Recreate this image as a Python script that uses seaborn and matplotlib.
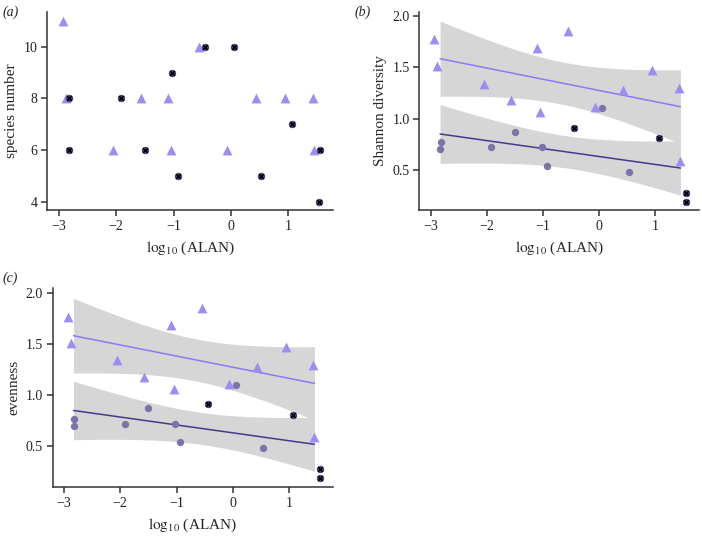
import numpy as np
import seaborn as sns
import matplotlib
matplotlib.use('Agg')
import matplotlib.pyplot as plt

# Datele citite din figura
# triunghiuri (grupa 1) si cercuri (grupa 2), pozitii x (log10 ALAN)
x_tri = [-2.93, -2.88, -2.05, -1.57, -1.10, -1.05, -0.55, -0.07, 0.43, 0.95, 1.43, 1.45]
x_circ = [-2.82, -2.83, -1.92, -1.50, -1.02, -0.93, -0.45, 0.05, 0.53, 1.07, 1.55, 1.54]

# (a) species number
sp_tri = [11, 8, 6, 8, 8, 6, 10, 6, 8, 8, 8, 6]
sp_circ = [8, 6, 8, 6, 9, 5, 10, 10, 5, 7, 6, 4]
flag_a = [True] * 12

# (b) Shannon diversity si (c) evenness (aceleasi valori)
sh_tri = [1.77, 1.51, 1.34, 1.18, 1.69, 1.06, 1.85, 1.11, 1.28, 1.47, 1.30, 0.59]
sh_circ = [0.77, 0.70, 0.72, 0.87, 0.72, 0.54, 0.91, 1.10, 0.48, 0.81, 0.28, 0.19]
flag_bc = [False, False, False, False, False, False, True, False, False, True, True, True]

ev_tri = sh_tri
ev_circ = sh_circ

x_ticks = [-3, -2, -1, 0, 1]

# Culori
c_tri = '#9d8cf2'
c_circ = '#7b74a8'
c_mark = '#46417e'
c_line_tri = '#8a7af5'
c_line_circ = '#433b8c'
c_band = '#d6d6d6'

sns.set_style('ticks')
plt.rcParams['font.family'] = ['Liberation Serif', 'DejaVu Serif']
plt.rcParams['mathtext.fontset'] = 'stix'
plt.rcParams['axes.edgecolor'] = '#333333'
plt.rcParams['axes.linewidth'] = 1.1
plt.rcParams['xtick.color'] = '#333333'
plt.rcParams['ytick.color'] = '#333333'
plt.rcParams['xtick.labelcolor'] = '#222222'
plt.rcParams['ytick.labelcolor'] = '#222222'


def fit_band(ax, x, y, lo, hi, col, z):
    # regresie liniara + interval de incredere 95% (t, df = n-2)
    x = np.asarray(x, float)
    y = np.asarray(y, float)
    n = len(x)
    b, a = np.polyfit(x, y, 1)
    res = y - (a + b * x)
    s = np.sqrt((res ** 2).sum() / (n - 2))
    sxx = ((x - x.mean()) ** 2).sum()
    xg = np.linspace(lo, hi, 100)
    yg = a + b * xg
    se = s * np.sqrt(1 / n + (xg - x.mean()) ** 2 / sxx)
    t = 2.228  # t 0.975, df=10
    ax.fill_between(xg, yg - t * se, yg + t * se, color=c_band, lw=0, zorder=z)
    ax.plot(xg, yg, color=col, lw=1.1, zorder=4)


def puncte(ax, y_tri, y_circ, flags):
    sns.scatterplot(x=x_tri, y=y_tri, marker='^', color=c_tri, s=50, linewidth=0,
                    ax=ax, zorder=5)
    xc = np.array(x_circ)
    yc = np.array(y_circ)
    fl = np.array(flags)
    if (~fl).any():
        sns.scatterplot(x=xc[~fl], y=yc[~fl], marker='o', color=c_circ, s=28,
                        linewidth=0, ax=ax, zorder=5)
    if fl.any():
        sns.scatterplot(x=xc[fl], y=yc[fl], marker='o', color=c_mark, s=28,
                        linewidth=0, ax=ax, zorder=6)
        sns.scatterplot(x=xc[fl], y=yc[fl], marker='x', color='black', s=12,
                        linewidth=1.1, ax=ax, zorder=7)


def stil(ax, ylab, yl, yt):
    ax.set_xlim(-3.2, 1.78)
    ax.set_ylim(*yl)
    ax.set_xticks(x_ticks)
    ax.set_yticks(yt)
    ax.tick_params(labelsize=10, length=4, width=1.1, pad=3)
    ax.set_xlabel(r'$\mathrm{log}_{10}$ (ALAN)', fontsize=11, labelpad=5)
    ax.set_ylabel(ylab, fontsize=11, labelpad=4)
    sns.despine(ax=ax)


fig = plt.figure(figsize=(7.02, 5.36), dpi=100)
ax_a = fig.add_axes([0.0674, 0.6082, 0.407, 0.370])
ax_b = fig.add_axes([0.5973, 0.6082, 0.3984, 0.370])
ax_c = fig.add_axes([0.0751, 0.0914, 0.3993, 0.3713])

lo = max(min(x_tri), min(x_circ))
hi = min(max(x_tri), max(x_circ))

# (a)
puncte(ax_a, sp_tri, sp_circ, flag_a)
stil(ax_a, 'species number', (3.68, 11.36), [4, 6, 8, 10])

# (b)
fit_band(ax_b, x_circ, sh_circ, lo, hi, c_line_circ, 1)
fit_band(ax_b, x_tri, sh_tri, lo, hi, c_line_tri, 2)
puncte(ax_b, sh_tri, sh_circ, flag_bc)
stil(ax_b, 'Shannon diversity', (0.11, 2.04), [0.5, 1.0, 1.5, 2.0])

# (c)
fit_band(ax_c, x_circ, ev_circ, lo, hi, c_line_circ, 1)
fit_band(ax_c, x_tri, ev_tri, lo, hi, c_line_tri, 2)
puncte(ax_c, ev_tri, ev_circ, flag_bc)
stil(ax_c, 'evenness', (0.10, 2.05), [0.5, 1.0, 1.5, 2.0])

for lit, xf, yf in [('(a)', 0.004, 0.99), ('(b)', 0.505, 0.99), ('(c)', 0.004, 0.493)]:
    fig.text(xf, yf, lit, style='italic', fontsize=10, va='top', ha='left')

fig.savefig('out.png', dpi=100)
